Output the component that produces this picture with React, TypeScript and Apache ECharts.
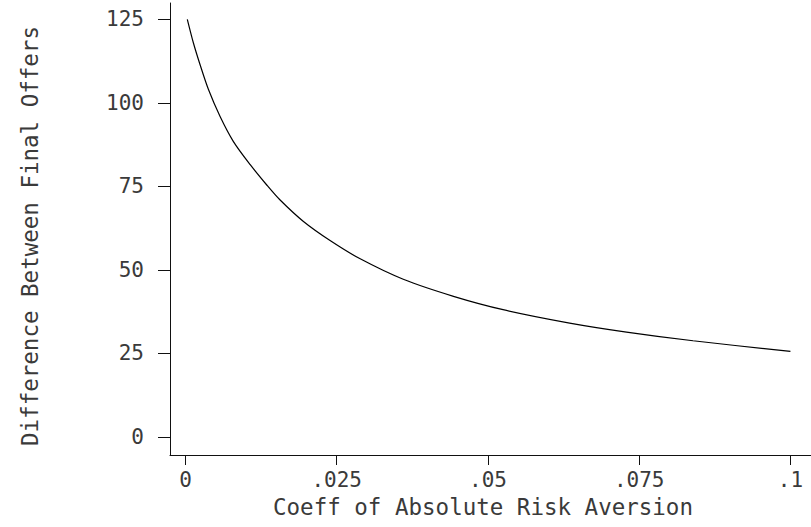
import React, { useEffect, useRef } from "react";
import * as echarts from "echarts";

const riskAversion = [0.0003, 0.0013, 0.0024, 0.0038, 0.0057, 0.0079, 0.0107, 0.0134, 0.0156, 0.0195, 0.0239, 0.0288, 0.036, 0.0443, 0.0525, 0.0635, 0.0729, 0.0839, 0.1];
const offerDifference = [125, 118, 111.5, 104, 96, 88.5, 81.5, 75.5, 71, 64.5, 58.8, 53.4, 47.2, 42.1, 38.1, 34.1, 31.4, 28.8, 25.6];
const xTicks = [0, 0.025, 0.05, 0.075, 0.1];
const yTicks = [0, 25, 50, 75, 100, 125];
const xTitle = "Coeff of Absolute Risk Aversion";
const yTitle = "Difference Between Final Offers";

const FONT = "DejaVu Sans Mono";
const TXT = "#3a3a3a";

export default function App() {
  const ref = useRef<HTMLDivElement>(null);
  useEffect(() => {
    if (!ref.current) return;
    const chart = echarts.init(ref.current, null, { renderer: "svg" });
    const fmt = (v: number) => (v === 0 ? "0" : String(v).replace(/^0/, ""));
    chart.setOption({
      animation: false,
      backgroundColor: "#ffffff",
      grid: { left: 170, right: 0, top: 3, bottom: 72 },
      xAxis: {
        type: "value",
        min: -0.00256,
        max: 0.1034,
        axisLine: { onZero: false, lineStyle: { color: "#111", width: 1 } },
        axisTick: { show: true, length: 10, customValues: xTicks, lineStyle: { color: "#111" } },
        axisLabel: {
          customValues: xTicks,
          formatter: fmt,
          fontFamily: FONT,
          fontSize: 21,
          color: TXT,
          margin: 14,
        },
        splitLine: { show: false },
      },
      yAxis: {
        type: "value",
        min: -5.39,
        max: 129.9,
        axisLine: { show: true, onZero: false, lineStyle: { color: "#111", width: 1 } },
        axisTick: { show: true, length: 12, customValues: yTicks, lineStyle: { color: "#111" } },
        axisLabel: {
          customValues: yTicks,
          fontFamily: FONT,
          fontSize: 21,
          color: TXT,
          margin: 26,
        },
        splitLine: { show: false },
      },
      graphic: [
        {
          type: "text",
          x: 483,
          y: 507,
          style: {
            text: xTitle,
            fontFamily: FONT,
            fontSize: 22.5,
            fill: TXT,
            textAlign: "center",
            textVerticalAlign: "middle",
          },
        },
        {
          type: "text",
          x: 30,
          y: 236,
          rotation: Math.PI / 2,
          style: {
            text: yTitle,
            fontFamily: FONT,
            fontSize: 22.5,
            fill: TXT,
            textAlign: "center",
            textVerticalAlign: "middle",
          },
        },
      ],
      series: [
        {
          type: "line",
          data: riskAversion.map((x, i) => [x, offerDifference[i]]),
          smooth: 0.3,
          symbol: "none",
          lineStyle: { color: "#000", width: 1.2 },
        },
      ],
    });
    return () => chart.dispose();
  }, []);
  return <div ref={ref} style={{ position: "fixed", left: 0, top: 0, width: 811, height: 527 }} />;
}
